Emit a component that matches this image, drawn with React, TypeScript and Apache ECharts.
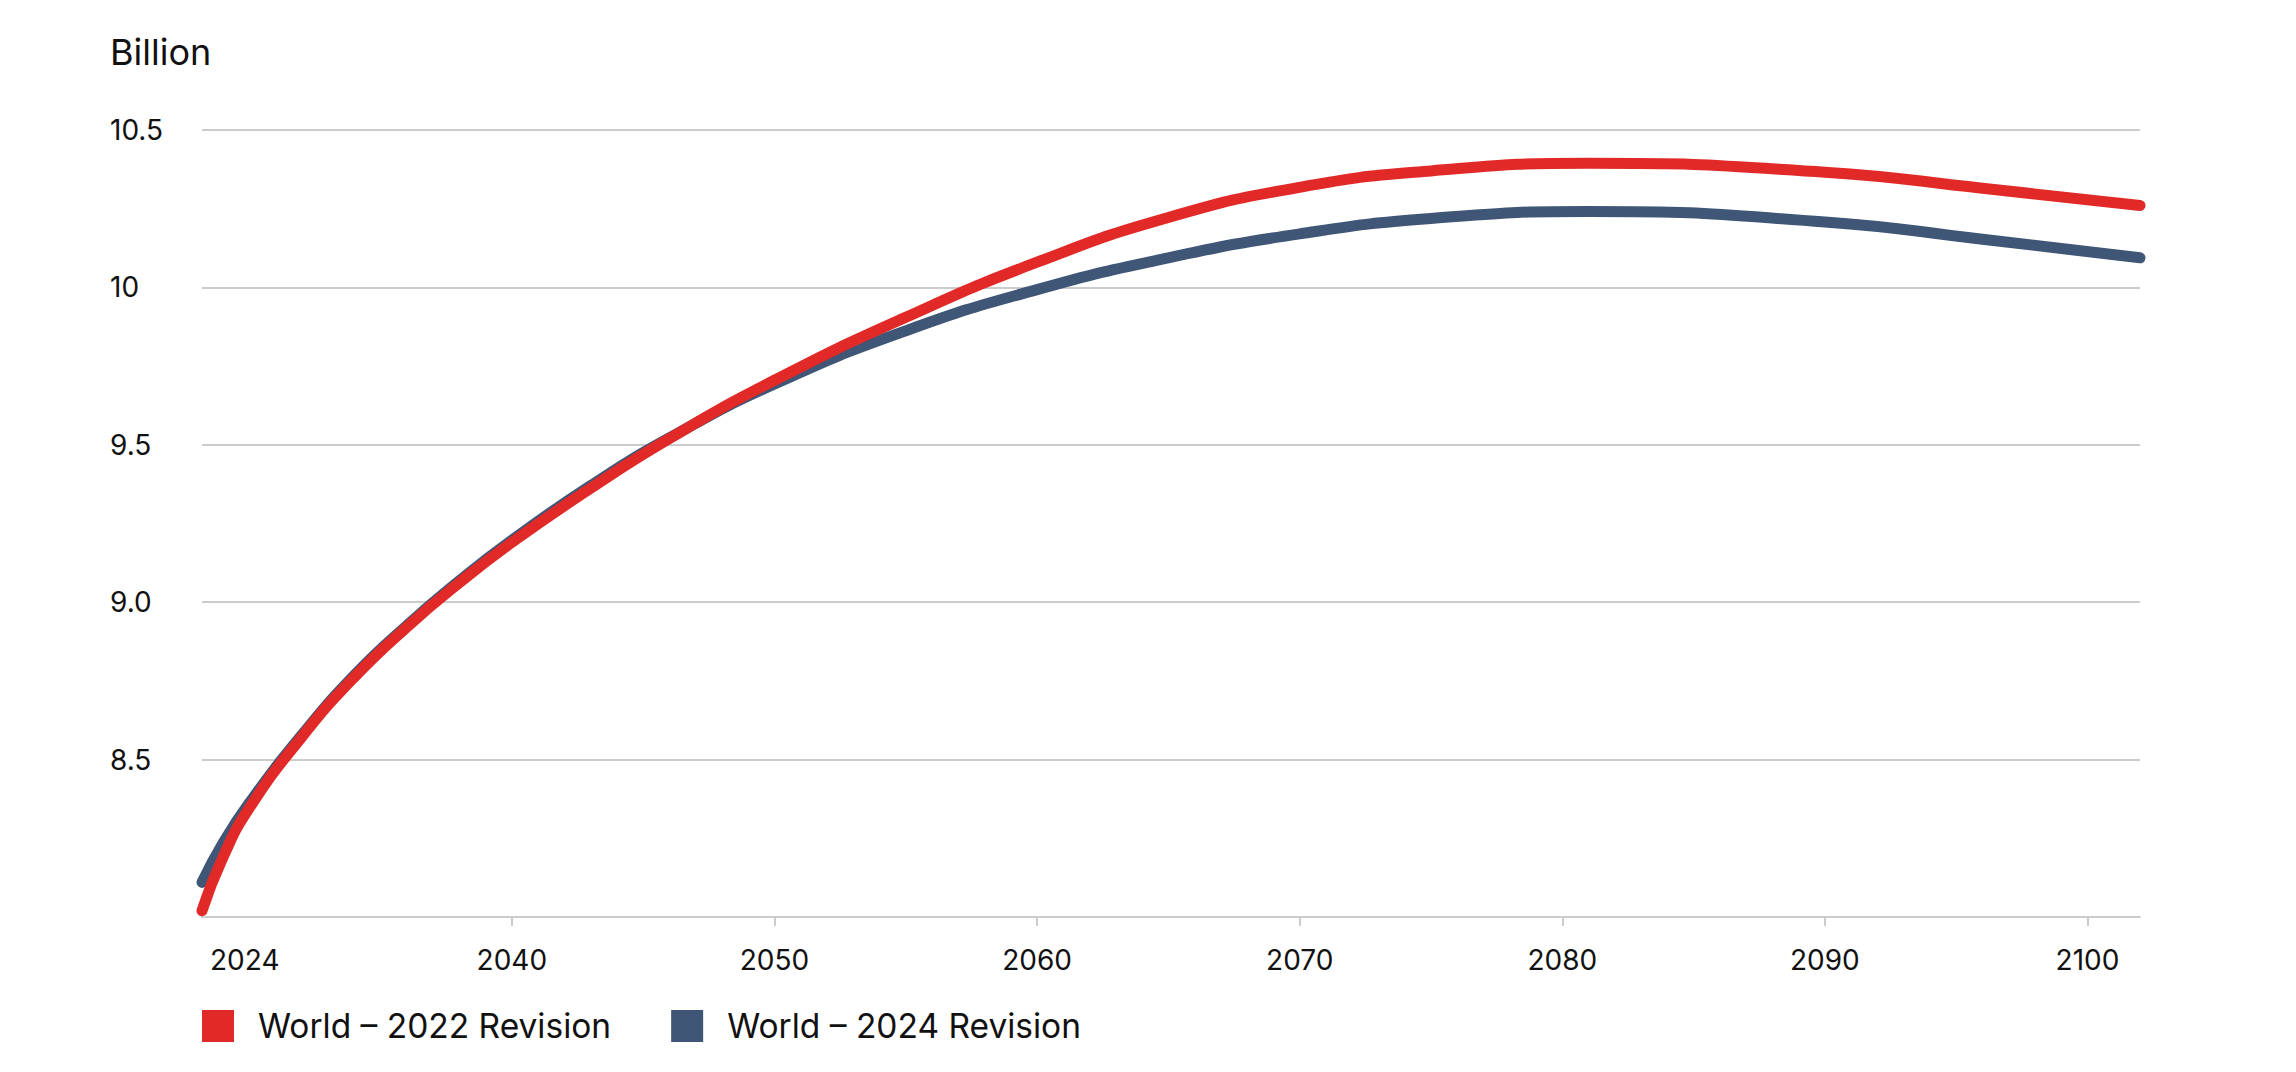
import React, { useEffect, useRef } from "react";
import * as echarts from "echarts";

const X_START = 2028.2;
const X_END = 2102.0;
const FIRST_LABEL = "2024";

const years = [X_START, 2029, 2030, 2032, 2034, 2036, 2038, 2040, 2043, 2046, 2050, 2055, 2060, 2065, 2070, 2075, 2081, 2090, 2096, X_END];
const rev2022 = [8.02, 8.19, 8.346, 8.572, 8.762, 8.921, 9.062, 9.19, 9.362, 9.52, 9.705, 9.905, 10.08, 10.222, 10.318, 10.37, 10.394, 10.366, 10.315, 10.26];
const rev2024 = [8.11, 8.235, 8.362, 8.578, 8.768, 8.926, 9.068, 9.197, 9.37, 9.522, 9.693, 9.862, 9.993, 10.094, 10.17, 10.219, 10.241, 10.208, 10.153, 10.094];

const xTicks = [2040, 2050, 2060, 2070, 2080, 2090, 2100];
const yLabels: Record<string, string> = { "8": "", "8.5": "8.5", "9": "9.0", "9.5": "9.5", "10": "10", "10.5": "10.5" };

const NAME_2022 = "World – 2022 Revision";
const NAME_2024 = "World – 2024 Revision";
const RED = "#E12A27";
const BLUE = "#3F5676";
const GRID = "#cccccc";
const TEXT = "#111111";
const FONT = "Inter";

export default function App() {
  const ref = useRef<HTMLDivElement>(null);
  useEffect(() => {
    if (!ref.current) return;
    const chart = echarts.init(ref.current, null, { renderer: "svg" });
    const pair = (arr: number[]) => years.map((y, i) => [y, arr[i]]);
    chart.setOption({
      animation: false,
      textStyle: { fontFamily: FONT },
      graphic: [
        {
          type: "text",
          left: 110,
          top: 34,
          style: { text: "Billion", font: `36px ${FONT}`, fill: TEXT },
        },
      ],
      grid: { left: 202, right: 156, top: 130, bottom: 155 },
      legend: {
        left: 202,
        top: 1009,
        padding: 0,
        itemWidth: 32,
        itemHeight: 32,
        itemGap: 60,
        icon: "rect",
        data: [NAME_2022, NAME_2024],
        textStyle: { fontSize: 33.5, color: TEXT, fontFamily: FONT, padding: [0, 0, 0, 19] },
      },
      xAxis: {
        type: "value",
        min: X_START,
        max: X_END,
        splitLine: { show: false },
        axisLine: { show: true, lineStyle: { color: GRID, width: 2 } },
        axisTick: { show: true, customValues: xTicks, length: 9, lineStyle: { color: GRID, width: 2 } },
        axisLabel: {
          customValues: [X_START, ...xTicks],
          fontSize: 28,
          color: TEXT,
          fontFamily: FONT,
          margin: 29,
          alignMinLabel: "left",
          formatter: (v: number) => (Math.abs(v - X_START) < 0.01 ? `{first|${FIRST_LABEL}}` : String(Math.round(v))),
          rich: { first: { fontSize: 28, color: TEXT, fontFamily: FONT, padding: [0, 0, 0, 8] } },
        },
      },
      yAxis: {
        type: "value",
        min: 8,
        max: 10.5,
        interval: 0.5,
        axisLine: { show: false },
        axisTick: { show: false },
        splitLine: { lineStyle: { color: GRID, width: 2 } },
        axisLabel: {
          fontSize: 28,
          color: TEXT,
          fontFamily: FONT,
          align: "left",
          margin: 92,
          formatter: (v: number) => yLabels[String(v)] ?? String(v),
        },
      },
      series: [
        {
          name: NAME_2024,
          type: "line",
          data: pair(rev2024),
          smooth: 0.5,
          showSymbol: false,
          color: BLUE,
          lineStyle: { color: BLUE, width: 11, cap: "round", join: "round" },
          z: 2,
        },
        {
          name: NAME_2022,
          type: "line",
          data: pair(rev2022),
          smooth: 0.5,
          showSymbol: false,
          color: RED,
          lineStyle: { color: RED, width: 11, cap: "round", join: "round" },
          z: 3,
        },
      ],
    });
    return () => chart.dispose();
  }, []);
  return <div ref={ref} style={{ position: "fixed", left: 0, top: 0, width: 2296, height: 1072, background: "#fff" }} />;
}
